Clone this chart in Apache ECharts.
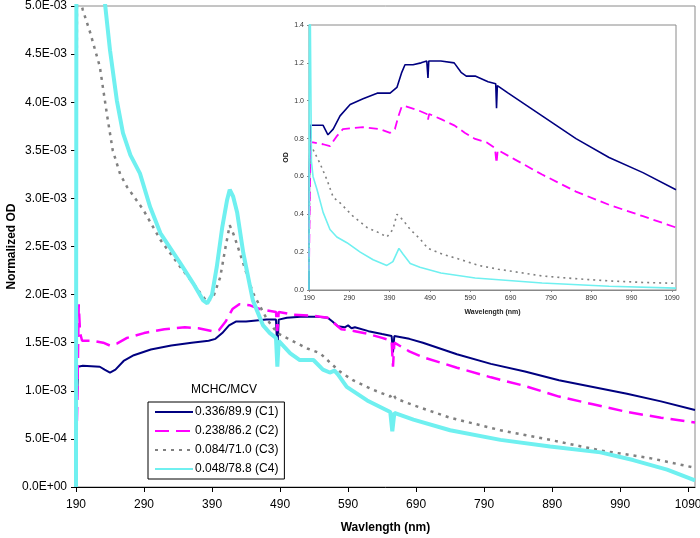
<!DOCTYPE html>
<html>
<head>
<meta charset="utf-8">
<script src="https://cdn.jsdelivr.net/npm/echarts@6/dist/echarts.min.js"></script>
<style>html,body{margin:0;padding:0;background:#fff;}#c{width:700px;height:538px;}</style>
</head>
<body>
<div id="c"></div>
<script>
// ---------- DATA ----------
const UNIT = 1e-3; // main chart values stored in units of 1E-03
const seriesNames = ['0.336/89.9 (C1)', '0.238/86.2 (C2)', '0.084/71.0 (C3)', '0.048/78.8 (C4)'];
const xTickLabels = [190, 290, 390, 490, 590, 690, 790, 890, 990, 1090];

// Main chart (Normalized OD, x1E-03)
const mainWlC1 = [190,191,193,200,225,232,240,248,260,275,300,330,360,385,395,405,415,425,440,455,470,484,486,488,500,520,545,560,567,575,585,590,595,600,620,640,654,656,658,680,700,750,800,850,900,950,1000,1050,1100];
const mainC1   = [0.0,0.8,1.25,1.26,1.25,1.22,1.19,1.22,1.31,1.37,1.43,1.47,1.50,1.52,1.54,1.60,1.68,1.72,1.72,1.73,1.74,1.74,1.42,1.74,1.76,1.77,1.77,1.76,1.72,1.67,1.66,1.68,1.65,1.66,1.62,1.59,1.57,1.40,1.57,1.54,1.50,1.38,1.28,1.20,1.11,1.04,0.97,0.89,0.80];

const mainWlC2 = [190,192,194,196,199,215,230,240,250,265,290,320,350,370,390,400,410,420,430,445,460,484,486,488,510,540,560,570,580,600,620,640,654,656,658,680,700,750,800,850,900,950,1000,1050,1100];
const mainC2   = [0.25,0.9,1.9,1.6,1.52,1.52,1.50,1.47,1.49,1.55,1.60,1.64,1.66,1.65,1.62,1.63,1.72,1.85,1.90,1.89,1.85,1.82,1.62,1.82,1.79,1.78,1.76,1.70,1.64,1.62,1.59,1.55,1.52,1.25,1.50,1.41,1.35,1.24,1.14,1.05,0.94,0.86,0.78,0.72,0.67];

const mainWlC3 = [190,191.5,195,200,211,225,236,244,255,265,289,314,343,362,383,392,402,410,416,422,431,450,471,486,505,530,549,564,578,597,627,652,656,660,686,740,814,887,961,1034,1100];
const mainC3   = [0.4,5.6,5.1,4.96,4.72,4.37,3.85,3.50,3.25,3.12,2.88,2.57,2.29,2.12,1.92,1.98,2.18,2.50,2.72,2.62,2.43,2.02,1.74,1.60,1.53,1.44,1.39,1.29,1.20,1.11,1.01,0.94,0.97,0.92,0.85,0.72,0.59,0.49,0.38,0.30,0.20];

const mainWlC4 = [190,191,200,215,228,233,240,250,259,270,284,299,314,343,362,377,383,390,397,405,412,416,421,427,436,450,465,475,484,486,488,505,519,530,539,553,563,570,575,588,618,652,655,658,686,740,814,887,961,1009,1059,1100];
const mainC4   = [0.0,9.0,9.0,7.0,5.4,5.0,4.54,4.02,3.68,3.45,3.26,2.91,2.64,2.33,2.12,1.94,1.91,2.00,2.29,2.70,2.98,3.09,3.02,2.85,2.43,1.94,1.68,1.60,1.55,1.25,1.52,1.39,1.32,1.32,1.32,1.22,1.19,1.21,1.17,1.04,0.90,0.78,0.58,0.77,0.70,0.59,0.49,0.42,0.36,0.28,0.18,0.07];

// Inset chart (OD)
const insetWlC1 = [190,191,193,200,225,237,250,267,292,324,359,391,408,420,428,448,468,482,485,487,517,550,567,580,602,634,653,655,657,684,768,852,934,1018,1100];
const insetC1   = [0.0,0.6,0.87,0.87,0.87,0.82,0.85,0.92,0.98,1.01,1.04,1.04,1.07,1.15,1.19,1.19,1.20,1.21,1.12,1.21,1.21,1.20,1.15,1.13,1.13,1.10,1.09,0.96,1.08,1.04,0.92,0.80,0.70,0.62,0.53];

const insetWlC2 = [190,192,194,200,225,242,258,274,324,366,391,403,412,420,430,460,482,485,488,520,550,577,600,630,651,655,658,700,768,852,934,1018,1100];
const insetC2   = [0.1,0.5,0.78,0.78,0.77,0.76,0.81,0.85,0.86,0.85,0.83,0.85,0.92,0.97,0.97,0.95,0.93,0.90,0.93,0.90,0.87,0.83,0.80,0.78,0.75,0.67,0.74,0.69,0.61,0.52,0.45,0.39,0.33];

const insetWlC3 = [190,192,196,200,217,235,250,267,299,334,366,383,398,408,413,423,441,465,485,520,567,610,659,768,850,934,1018,1100];
const insetC3   = [0.1,0.8,0.76,0.75,0.67,0.58,0.49,0.46,0.39,0.33,0.30,0.28,0.32,0.40,0.39,0.37,0.32,0.27,0.22,0.19,0.16,0.13,0.11,0.074,0.06,0.048,0.04,0.035];

const insetWlC4 = [190,191,193,196,200,210,225,242,259,284,317,349,383,398,413,423,441,465,517,602,768,934,1100];
const insetC4   = [0.0,1.6,1.5,0.68,0.60,0.53,0.41,0.32,0.28,0.25,0.20,0.16,0.13,0.15,0.22,0.19,0.14,0.12,0.09,0.063,0.037,0.02,0.01];

// ---------- CHART ----------
const FONT = 'Arial, "Liberation Sans", sans-serif';
const colors = ['#000080', '#FF00FF', '#808080', '#6FF0F0'];
function pairs(xs, ys, k) { return xs.map((x, i) => [x, ys[i] * k]); }
function sci(v) {
  let s = Number(v).toExponential(1);
  let [m, e] = s.split('e');
  let sign = e[0] === '-' ? '-' : '+';
  let d = e.replace(/^[+-]/, '');
  if (d.length < 2) d = '0' + d;
  return m + 'E' + sign + d;
}
const plain = v => String(Math.round(v));

const mainStyles = [
  { width: 2, type: 'solid' },
  { width: 2.5, type: [14, 7] },
  { width: 2.5, type: [3, 5] },
  { width: 4, type: 'solid' }
];
const insetStyles = [
  { width: 1.6, type: 'solid' },
  { width: 1.8, type: [9, 5] },
  { width: 1.6, type: [2, 4] },
  { width: 1.6, type: 'solid' }
];

const mainData = [
  pairs(mainWlC1, mainC1, UNIT), pairs(mainWlC2, mainC2, UNIT),
  pairs(mainWlC3, mainC3, UNIT), pairs(mainWlC4, mainC4, UNIT)
];
const insetData = [
  pairs(insetWlC1, insetC1, 1), pairs(insetWlC2, insetC2, 1),
  pairs(insetWlC3, insetC3, 1), pairs(insetWlC4, insetC4, 1)
];

const series = [];
for (let i = 0; i < 4; i++) {
  series.push({
    name: seriesNames[i], type: 'line', xAxisIndex: 0, yAxisIndex: 0,
    data: mainData[i], symbol: 'none', showSymbol: false, clip: true,
    lineStyle: { color: colors[i], width: mainStyles[i].width, type: mainStyles[i].type, cap: 'butt' },
    itemStyle: { color: colors[i] }, z: 2 + i
  });
}
for (let i = 0; i < 4; i++) {
  series.push({
    name: 'inset ' + seriesNames[i], type: 'line', xAxisIndex: 1, yAxisIndex: 1,
    data: insetData[i], symbol: 'none', showSymbol: false, clip: true,
    lineStyle: { color: colors[i], width: insetStyles[i].width, type: insetStyles[i].type },
    itemStyle: { color: colors[i] }, z: 12 + i
  });
}

const chart = echarts.init(document.getElementById('c'), null, { renderer: 'canvas' });
chart.setOption({
  animation: false,
  backgroundColor: '#fff',
  textStyle: { fontFamily: FONT },
  title: {
    text: 'MCHC/MCV', left: 186, top: 379,
    textStyle: { fontFamily: FONT, fontSize: 12, fontWeight: 'normal', color: '#000' }
  },
  legend: {
    data: seriesNames, orient: 'vertical', left: 148, top: 402,
    padding: [4, 6, 4, 6], itemGap: 7, itemWidth: 38, itemHeight: 12,
    borderColor: '#000', borderWidth: 1, backgroundColor: '#fff',
    selectedMode: false,
    itemStyle: { color: 'rgba(0,0,0,0)', borderWidth: 0, opacity: 0 },
    textStyle: { fontFamily: FONT, fontSize: 12, color: '#000', padding: [0, 0, 0, -3] }
  },
  grid: [
    { left: 76, right: 5, top: 6, bottom: 51, show: true, borderColor: '#8a8a8a', borderWidth: 1, backgroundColor: 'transparent', containLabel: false, outerBoundsMode: 'none' },
    { left: 309, right: 24, top: 25, bottom: 248, show: true, borderColor: '#8a8a8a', borderWidth: 1, backgroundColor: '#fff', containLabel: false, outerBoundsMode: 'none', z: 10 }
  ],
  xAxis: [
    {
      type: 'value', gridIndex: 0, min: 190, max: 1100,
      name: 'Wavlength (nm)', nameLocation: 'middle', nameGap: 35, nameMoveOverlap: false,
      nameTextStyle: { fontFamily: FONT, fontSize: 12, fontWeight: 'bold', color: '#000' },
      axisLine: { show: true, lineStyle: { color: '#000', width: 1 } },
      axisTick: { show: true, length: 5, inside: false, customValues: xTickLabels, lineStyle: { color: '#000' } },
      axisLabel: { customValues: xTickLabels, formatter: plain, margin: 12, fontFamily: FONT, fontSize: 12, color: '#000' },
      splitLine: { show: false }
    },
    {
      type: 'value', gridIndex: 1, min: 190, max: 1100,
      name: 'Wavelength (nm)', nameLocation: 'middle', nameGap: 19, nameMoveOverlap: false,
      nameTextStyle: { fontFamily: FONT, fontSize: 7, fontWeight: 'bold', color: '#222' },
      axisLine: { show: true, lineStyle: { color: '#888', width: 1 } },
      axisTick: { show: true, length: 2, customValues: xTickLabels, lineStyle: { color: '#888' } },
      axisLabel: { customValues: xTickLabels, formatter: plain, margin: 5, fontFamily: FONT, fontSize: 7, color: '#333' },
      splitLine: { show: false }, z: 12
    }
  ],
  yAxis: [
    {
      type: 'value', gridIndex: 0, min: 0, max: 0.005, interval: 0.0005,
      name: 'Normalized OD', nameLocation: 'middle', nameGap: 58, nameMoveOverlap: false,
      nameTextStyle: { fontFamily: FONT, fontSize: 12, fontWeight: 'bold', color: '#000' },
      axisLine: { show: true, lineStyle: { color: '#000', width: 1 } },
      axisTick: { show: true, length: 5, lineStyle: { color: '#000' } },
      axisLabel: { formatter: sci, margin: 9, fontFamily: FONT, fontSize: 12, color: '#000' },
      splitLine: { show: false }
    },
    {
      type: 'value', gridIndex: 1, min: 0, max: 1.4, interval: 0.2,
      name: 'OD', nameLocation: 'middle', nameGap: 19, nameMoveOverlap: false,
      nameTextStyle: { fontFamily: FONT, fontSize: 7, fontWeight: 'bold', color: '#222' },
      axisLine: { show: true, lineStyle: { color: '#888', width: 1 } },
      axisTick: { show: true, length: 2, lineStyle: { color: '#888' } },
      axisLabel: { formatter: v => v.toFixed(1), margin: 5, fontFamily: FONT, fontSize: 7, color: '#333' },
      splitLine: { show: false }, z: 12
    }
  ],
  series: series
});
</script>
</body>
</html>
